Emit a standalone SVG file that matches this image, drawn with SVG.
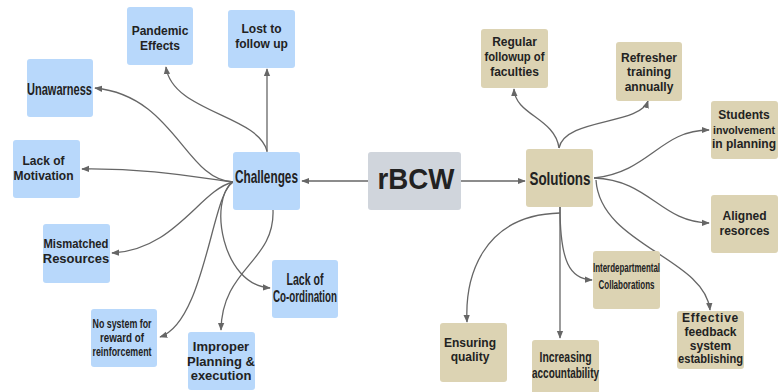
<svg xmlns="http://www.w3.org/2000/svg" width="779" height="392" viewBox="0 0 779 392">
  <style>
    .blue { fill: #b8d8fb; }
    .tan { fill: #dcd3b3; }
    .core { fill: #d0d5dc; }
    text { font-family: "Liberation Sans", Arial, sans-serif; font-weight: bold; fill: #222; text-anchor: middle; }
    .t12 { font-size: 12px; }
    .edge { fill: none; stroke: #666; stroke-width: 1.3; marker-end: url(#arrow); }
  </style>
  <defs>
    <marker id="arrow" viewBox="0 0 10 10" refX="9" refY="5" markerWidth="8" markerHeight="8" markerUnits="userSpaceOnUse" orient="auto">
      <path d="M0,1 L10,5 L0,9 z" fill="#666"/>
    </marker>
  </defs>
  <rect width="779" height="392" fill="#fff"/>

  <g id="connectors">
    <!-- centre to the two hubs -->
    <path class="edge" d="M368,181 L302,181"/>
    <path class="edge" d="M461,181 L525,181"/>
    <!-- challenges -->
    <path class="edge" d="M267,152 L267,69"/>
    <path class="edge" d="M267,151 C258,115 172,112 166,67"/>
    <path class="edge" d="M233,182 C185,180 175,96 95,88"/>
    <path class="edge" d="M233,182 C200,178 150,168 82,169"/>
    <path class="edge" d="M233,182 C200,190 175,250 112,253"/>
    <path class="edge" d="M233,182 C212,192 205,322 160,337"/>
    <path class="edge" d="M233,182 C208,200 222,285 270,288"/>
    <path class="edge" d="M273,210 C275,262 222,268 221,330"/>
    <!-- solutions -->
    <path class="edge" d="M559,148 C555,118 515,115 514,89"/>
    <path class="edge" d="M559,148 C565,118 640,125 648,101"/>
    <path class="edge" d="M594,178 C650,172 660,130 709,130"/>
    <path class="edge" d="M594,178 C650,180 660,222 709,223"/>
    <path class="edge" d="M596,180 C600,245 705,258 710,310"/>
    <path class="edge" d="M560,207 C560,262 570,279 592,280"/>
    <path class="edge" d="M560,207 L560,338"/>
    <path class="edge" d="M560,213 C480,215 465,280 467,322"/>
  </g>

  <g id="rBCW">
    <rect class="core" x="368" y="152" width="93" height="58" rx="3"/>
    <text x="416" y="189" font-size="30" textLength="77" lengthAdjust="spacingAndGlyphs">rBCW</text>
  </g>

  <g id="challenges">
    <rect class="blue" x="233" y="152" width="67" height="58" rx="3"/>
    <text x="266.5" y="183" font-size="19" textLength="63" lengthAdjust="spacingAndGlyphs">Challenges</text>
  </g>
  <g id="pandemic-effects">
    <rect class="blue" x="127" y="7" width="66" height="58" rx="3"/>
    <text class="t12" x="160" y="35">Pandemic</text>
    <text class="t12" x="160" y="50">Effects</text>
  </g>
  <g id="lost-to-follow-up">
    <rect class="blue" x="228" y="10" width="67" height="58" rx="3"/>
    <text class="t12" x="261.5" y="33">Lost to</text>
    <text class="t12" x="261.5" y="48">follow up</text>
  </g>
  <g id="unawarness">
    <rect class="blue" x="27" y="59" width="66" height="58" rx="3"/>
    <text x="59.5" y="95" font-size="16" textLength="65" lengthAdjust="spacingAndGlyphs">Unawarness</text>
  </g>
  <g id="lack-of-motivation">
    <rect class="blue" x="13" y="140" width="67" height="58" rx="3"/>
    <text class="t12" x="43.5" y="165">Lack of</text>
    <text class="t12" x="43.5" y="180">Motivation</text>
  </g>
  <g id="mismatched-resources">
    <rect class="blue" x="43" y="224" width="67" height="59" rx="3"/>
    <text x="76" y="248" font-size="13" textLength="65" lengthAdjust="spacingAndGlyphs">Mismatched</text>
    <text x="76" y="263" font-size="13">Resources</text>
  </g>
  <g id="no-system">
    <rect class="blue" x="91" y="309" width="66" height="58" rx="3"/>
    <text x="122" y="328" font-size="12" textLength="59" lengthAdjust="spacingAndGlyphs">No system for</text>
    <text x="122" y="342" font-size="12" textLength="44" lengthAdjust="spacingAndGlyphs">reward of</text>
    <text x="122" y="356" font-size="12" textLength="59" lengthAdjust="spacingAndGlyphs">reinforcement</text>
  </g>
  <g id="improper-planning">
    <rect class="blue" x="188" y="332" width="67" height="58" rx="3"/>
    <text x="221" y="351" font-size="13">Improper</text>
    <text x="221" y="366" font-size="13">Planning &amp;</text>
    <text x="221" y="380" font-size="13">execution</text>
  </g>
  <g id="lack-of-coordination">
    <rect class="blue" x="272" y="260" width="66" height="58" rx="3"/>
    <text x="305" y="285" font-size="16" textLength="37" lengthAdjust="spacingAndGlyphs">Lack of</text>
    <text x="305" y="302" font-size="16" textLength="64" lengthAdjust="spacingAndGlyphs">Co-ordination</text>
  </g>

  <g id="solutions">
    <rect class="tan" x="526" y="149" width="67" height="58" rx="3"/>
    <text x="560" y="185" font-size="19" textLength="61" lengthAdjust="spacingAndGlyphs">Solutions</text>
  </g>
  <g id="regular-followup">
    <rect class="tan" x="481" y="29" width="67" height="59" rx="3"/>
    <text class="t12" x="514.5" y="46">Regular</text>
    <text class="t12" x="514.5" y="61" textLength="60" lengthAdjust="spacingAndGlyphs">followup of</text>
    <text class="t12" x="514.5" y="76">faculties</text>
  </g>
  <g id="refresher-training">
    <rect class="tan" x="616" y="42" width="66" height="59" rx="3"/>
    <text class="t12" x="649" y="62">Refresher</text>
    <text class="t12" x="649" y="76">training</text>
    <text class="t12" x="649" y="91">annually</text>
  </g>
  <g id="students-involvement">
    <rect class="tan" x="711" y="101" width="67" height="58" rx="3"/>
    <text class="t12" x="744" y="119">Students</text>
    <text x="744" y="134" font-size="11.5" textLength="62" lengthAdjust="spacingAndGlyphs">involvement</text>
    <text class="t12" x="744" y="148">in planning</text>
  </g>
  <g id="aligned-resorces">
    <rect class="tan" x="711" y="195" width="67" height="58" rx="3"/>
    <text class="t12" x="744.5" y="220">Aligned</text>
    <text class="t12" x="744.5" y="235">resorces</text>
  </g>
  <g id="interdepartmental">
    <rect class="tan" x="593" y="251" width="67" height="58" rx="3"/>
    <text x="626.5" y="272" font-size="12.5" textLength="67" lengthAdjust="spacingAndGlyphs">Interdepartmental</text>
    <text x="626.5" y="289" font-size="12.5" textLength="56" lengthAdjust="spacingAndGlyphs">Collaborations</text>
  </g>
  <g id="effective-feedback">
    <rect class="tan" x="677" y="311" width="67" height="58" rx="3"/>
    <text class="t12" x="710.5" y="322" letter-spacing="0.8">Effective</text>
    <text class="t12" x="710.5" y="336">feedback</text>
    <text class="t12" x="710.5" y="350">system</text>
    <text class="t12" x="710.5" y="363" textLength="65" lengthAdjust="spacingAndGlyphs">establishing</text>
  </g>
  <g id="ensuring-quality">
    <rect class="tan" x="440" y="323" width="67" height="59" rx="3"/>
    <text class="t12" x="470" y="347">Ensuring</text>
    <text class="t12" x="470" y="361">quality</text>
  </g>
  <g id="increasing-accountability">
    <rect class="tan" x="532" y="340" width="67" height="58" rx="3"/>
    <text x="565.5" y="362" font-size="15" textLength="52" lengthAdjust="spacingAndGlyphs">Increasing</text>
    <text x="565.5" y="378" font-size="15" textLength="67" lengthAdjust="spacingAndGlyphs">accountability</text>
  </g>
</svg>
